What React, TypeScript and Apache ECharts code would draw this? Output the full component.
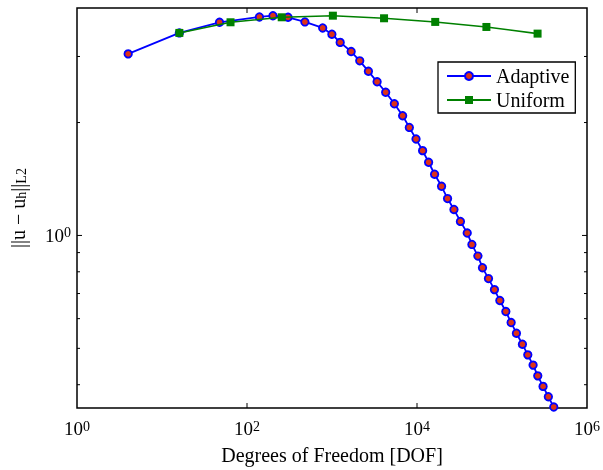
import React, { useEffect, useRef } from 'react';
import * as echarts from 'echarts';

const adaptiveDof = [4, 16, 47.5, 140, 202, 304, 480, 777, 997, 1248, 1680, 2121, 2682, 3393, 4281, 5415, 6779, 8126, 9739, 11641, 13692, 16103, 19455, 22883, 27210, 32434, 38976, 44260, 52060, 58960, 69340, 81520, 94360, 110980, 128070, 147830, 173860, 201140, 232100, 263550, 304130, 351040, 406330];
const adaptiveErr = [3.048, 3.467, 3.701, 3.824, 3.854, 3.816, 3.709, 3.574, 3.439, 3.271, 3.092, 2.921, 2.739, 2.568, 2.408, 2.244, 2.085, 1.941, 1.808, 1.683, 1.567, 1.456, 1.352, 1.254, 1.173, 1.09, 1.015, 0.9464, 0.881, 0.8204, 0.7673, 0.7171, 0.6706, 0.6268, 0.5858, 0.5487, 0.5129, 0.4804, 0.4511, 0.4223, 0.3959, 0.3715, 0.3487];

const uniformDof = [16, 64, 256, 1024, 4096, 16384, 65536, 262144];
const uniformErr = [3.467, 3.701, 3.816, 3.854, 3.793, 3.709, 3.596, 3.452];

const X_MIN = 1;
const X_MAX = 1e6;
const Y_MIN = 0.3467;
const Y_MAX = 4.04;

const xLabelExps = [0, 2, 4, 6];
const yLabelExps = [0];
const xMajorTicks = [100, 10000];
const yMajorTicks = [1];
const yMinorTicks = [0.4, 0.5, 0.6, 0.7, 0.8, 0.9, 2, 3];

const FONT = 'Liberation Serif';

export default function App() {
  const ref = useRef<HTMLDivElement>(null);
  useEffect(() => {
    if (!ref.current) return;
    const chart = echarts.init(ref.current, undefined, { renderer: 'svg' });

    const tickData: number[][] = [];
    yMinorTicks.forEach((v) => tickData.push([X_MIN, v, 0]));
    yMajorTicks.forEach((v) => tickData.push([X_MIN, v, 1]));
    xMajorTicks.forEach((v) => tickData.push([v, Y_MIN, 2]));

    const labelRich = {
      b: { fontFamily: FONT, fontSize: 19, color: '#000', verticalAlign: 'bottom', lineHeight: 19 },
      s: { fontFamily: FONT, fontSize: 14, color: '#000', verticalAlign: 'bottom', padding: [0, 0, 5, 0] },
    };

    const option: any = {
      animation: false,
      grid: {
        left: 77,
        right: 15,
        top: 8,
        bottom: 61,
        show: true,
        borderColor: '#000',
        borderWidth: 1.5,
        containLabel: false,
      },
      legend: {
        data: ['Adaptive', 'Uniform'],
        orient: 'vertical',
        left: 438,
        top: 62,
        padding: [4, 6, 3, 8],
        itemGap: 4,
        itemWidth: 44,
        itemHeight: 10,
        backgroundColor: '#fff',
        borderColor: '#000',
        borderWidth: 1.3,
        borderRadius: 0,
        textStyle: { fontFamily: FONT, fontSize: 20, color: '#000' },
      },
      xAxis: {
        type: 'log',
        logBase: 10,
        min: X_MIN,
        max: X_MAX,
        name: 'Degrees of Freedom [DOF]',
        nameLocation: 'middle',
        nameGap: 37,
        nameTextStyle: { fontFamily: FONT, fontSize: 20, color: '#000' },
        axisLine: { show: false },
        axisTick: { show: false },
        splitLine: { show: false },
        minorTick: { show: false },
        axisLabel: {
          margin: 11,
          formatter: (v: number) => {
            const e = Math.round(Math.log10(v));
            if (Math.abs(Math.log10(v) - e) > 1e-6) return '';
            return xLabelExps.includes(e) ? `{b|10}{s|${e}}` : '';
          },
          rich: labelRich,
        },
      },
      yAxis: {
        type: 'log',
        logBase: 10,
        min: Y_MIN,
        max: Y_MAX,
        name: '{m|||u − u}{s|h}{m|||}{s|L2}',
        nameLocation: 'middle',
        nameRotate: 90,
        nameGap: 49,
        nameTextStyle: {
          rich: {
            m: { fontFamily: FONT, fontSize: 20, color: '#000', verticalAlign: 'bottom', lineHeight: 20 },
            s: { fontFamily: FONT, fontSize: 14, color: '#000', verticalAlign: 'bottom', padding: [9, 0, 0, 0] },
          },
        },
        axisLine: { show: false },
        axisTick: { show: false },
        splitLine: { show: false },
        minorTick: { show: false },
        axisLabel: {
          margin: 6,
          formatter: (v: number) => {
            const l = Math.log10(v);
            const e = Math.round(l);
            if (Math.abs(l - e) > 1e-6) return '';
            return yLabelExps.includes(e) ? `{b|10}{s|${e}}` : '';
          },
          rich: labelRich,
        },
      },
      series: [
        {
          type: 'custom',
          silent: true,
          clip: false,
          encode: { x: 0, y: 1 },
          data: tickData,
          z: 1,
          renderItem: (params: any, api: any) => {
            const t = api.value(2);
            const st = { stroke: '#000', lineWidth: 1 };
            if (t < 2) {
              const v = api.value(1);
              const pl = api.coord([X_MIN, v]);
              const pr = api.coord([X_MAX, v]);
              const len = t === 1 ? 5 : 3;
              return {
                type: 'group',
                children: [
                  { type: 'line', shape: { x1: pl[0], y1: pl[1], x2: pl[0] + len, y2: pl[1] }, style: st },
                  { type: 'line', shape: { x1: pr[0], y1: pr[1], x2: pr[0] - len, y2: pr[1] }, style: st },
                ],
              };
            }
            const v = api.value(0);
            const pb = api.coord([v, Y_MIN]);
            const pt = api.coord([v, Y_MAX]);
            return {
              type: 'group',
              children: [
                { type: 'line', shape: { x1: pb[0], y1: pb[1], x2: pb[0], y2: pb[1] - 5 }, style: st },
                { type: 'line', shape: { x1: pt[0], y1: pt[1], x2: pt[0], y2: pt[1] + 5 }, style: st },
              ],
            };
          },
        },
        {
          name: 'Adaptive',
          type: 'line',
          clip: false,
          data: adaptiveDof.map((d, i) => [d, adaptiveErr[i]]),
          symbol: 'circle',
          symbolSize: 7.5,
          lineStyle: { color: '#0000ff', width: 1.8 },
          itemStyle: { color: '#dd3318', borderColor: '#0000ff', borderWidth: 1.8 },
          z: 3,
        },
        {
          name: 'Uniform',
          type: 'line',
          clip: false,
          data: uniformDof.map((d, i) => [d, uniformErr[i]]),
          symbol: 'rect',
          symbolSize: 8,
          lineStyle: { color: '#008000', width: 1.6 },
          itemStyle: { color: '#008000', borderColor: '#008000', borderWidth: 0 },
          z: 4,
        },
      ],
    };
    chart.setOption(option);
    return () => chart.dispose();
  }, []);
  return <div ref={ref} style={{ position: 'fixed', left: 0, top: 0, width: 603, height: 470 }} />;
}
